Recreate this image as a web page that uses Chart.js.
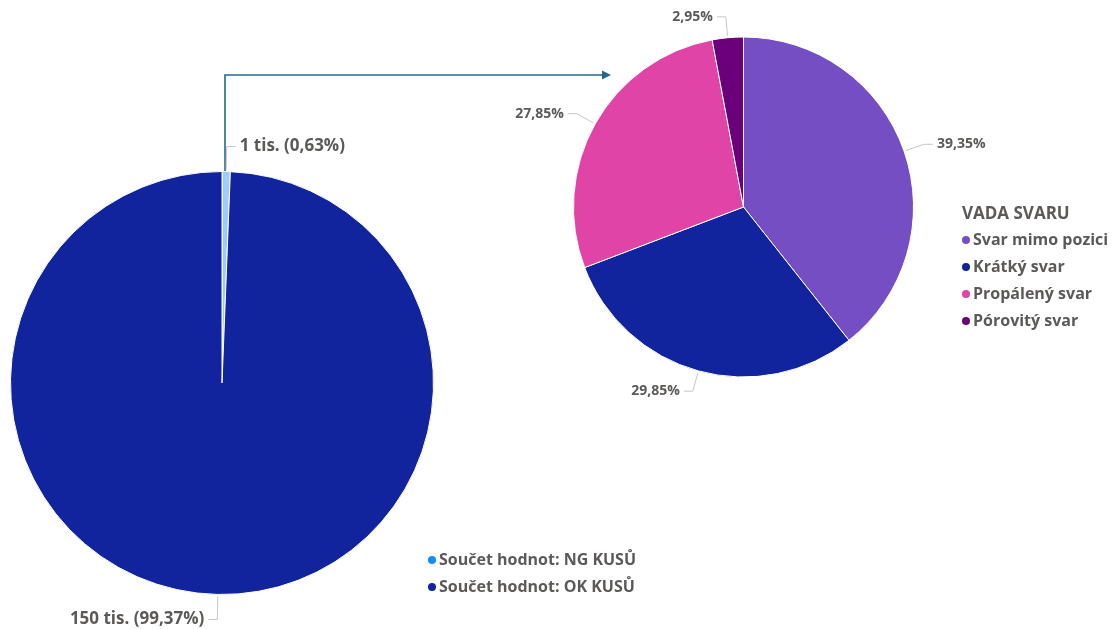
<!DOCTYPE html>
<html>
<head>
<meta charset="utf-8">
<script src="https://cdn.jsdelivr.net/npm/chart.js@4/dist/chart.umd.min.js"></script>
<style>
  html, body { margin: 0; padding: 0; background: #fff; }
  body { width: 1120px; height: 629px; position: relative; overflow: hidden;
         font-family: "Open Sans", "Noto Sans", sans-serif; }
  .box { position: absolute; }
  #totalBox { left: 0; top: 120px; width: 460px; height: 509px; }
  #defectBox { left: 500px; top: 0; width: 520px; height: 420px; }
  .legend { position: absolute; color: #5C5A58; font-weight: 700; font-size: 16px; line-height: 27px; }
  .legend .title { font-size: 17px; }
  .legend .item { display: flex; align-items: center; white-space: nowrap; }
  .legend .dot { width: 8px; height: 8px; border-radius: 50%; margin-right: 3px; }
  #arrow { position: absolute; left: 0; top: 0; }
</style>
</head>
<body>
<svg id="arrow" width="1120" height="629">
  <polyline points="225,182 225,75 604,75" fill="none" stroke="#24698A" stroke-width="1.6"/>
  <polygon points="611,75 602,70.5 602,79.5" fill="#24698A"/>
</svg>
<div class="box" id="totalBox"><canvas id="totalChart"></canvas></div>
<div class="box" id="defectBox"><canvas id="defectChart"></canvas></div>
<div class="legend" id="defectLegend" style="left:962px; top:199px;"></div>
<div class="legend" id="totalLegend" style="left:428px; top:546px;"></div>

<script>
// pocty kusu
const totalLabels = ['Součet hodnot: NG KUSŮ', 'Součet hodnot: OK KUSŮ'];
const totalValues = [950, 149850];
const totalColors = ['#9FCDFB', '#12239E'];
const totalLegendColors = ['#118DFF', '#12239E'];

// vady svaru (podil v %)
const defectTitle = 'VADA SVARU';
const defectLabels = ['Svar mimo pozici', 'Krátký svar', 'Propálený svar', 'Pórovitý svar'];
const defectValues = [39.35, 29.85, 27.85, 2.95];
const defectColors = ['#744EC2', '#12239E', '#E044A7', '#6B007B'];

function pctText(v, total) {
    return (v / total * 100).toFixed(2).replace('.', ',') + '%';
}

// popisky mimo vysec s vodici carou
const outsideLabels = {
    id: 'outsideLabels',
    afterDatasetsDraw(chart, args, opts) {
        const ctx = chart.ctx;
        const ds = chart.data.datasets[0];
        const total = ds.data.reduce((a, b) => a + b, 0);
        chart.getDatasetMeta(0).data.forEach((arc, i) => {
            const mid = (arc.startAngle + arc.endAngle) / 2;
            const r = arc.outerRadius;
            const dx = Math.cos(mid), dy = Math.sin(mid);
            const x0 = arc.x + dx * (r + 2), y0 = arc.y + dy * (r + 2);
            const x1 = arc.x + dx * (r + opts.len), y1 = arc.y + dy * (r + opts.len);
            const side = dx >= 0 ? 1 : -1;
            const x2 = x1 + side * 9;
            ctx.save();
            ctx.strokeStyle = '#C8C6C4';
            ctx.lineWidth = 1;
            ctx.beginPath();
            ctx.moveTo(x0, y0);
            ctx.lineTo(x1, y1);
            ctx.lineTo(x2, y1);
            ctx.stroke();
            ctx.fillStyle = '#5C5A58';
            ctx.font = opts.font;
            ctx.textBaseline = 'middle';
            ctx.textAlign = side > 0 ? 'left' : 'right';
            ctx.fillText(opts.format(ds.data[i], total), x2 + side * 4, y1);
            ctx.restore();
        });
    }
};

function pieOptions(padding, labelOpts) {
    return {
        responsive: true,
        maintainAspectRatio: false,
        animation: false,
        layout: { padding: padding },
        plugins: {
            legend: { display: false },
            tooltip: { enabled: false },
            outsideLabels: labelOpts
        }
    };
}

new Chart(document.getElementById('totalChart'), {
    type: 'pie',
    data: {
        labels: totalLabels,
        datasets: [{ data: totalValues, backgroundColor: totalColors, borderColor: '#fff', borderWidth: 1 }]
    },
    options: pieOptions({ left: 10, right: 26, top: 50, bottom: 33 }, {
        len: 25,
        font: 'bold 17px "Open Sans"',
        format: (v, t) => Math.round(v / 1000) + ' tis. (' + pctText(v, t) + ')'
    }),
    plugins: [outsideLabels]
});

new Chart(document.getElementById('defectChart'), {
    type: 'pie',
    data: {
        labels: defectLabels,
        datasets: [{ data: defectValues, backgroundColor: defectColors, borderColor: '#fff', borderWidth: 1 }]
    },
    options: pieOptions({ left: 73, right: 106, top: 36, bottom: 42 }, {
        len: 21,
        font: 'bold 14px "Open Sans"',
        format: (v, t) => pctText(v, t)
    }),
    plugins: [outsideLabels]
});

// legendy
function buildLegend(el, title, labels, colors) {
    let html = title ? '<div class="title">' + title + '</div>' : '';
    labels.forEach((l, i) => {
        html += '<div class="item"><span class="dot" style="background:' + colors[i] + '"></span>' + l + '</div>';
    });
    el.innerHTML = html;
}
buildLegend(document.getElementById('defectLegend'), defectTitle, defectLabels, defectColors);
buildLegend(document.getElementById('totalLegend'), '', totalLabels, totalLegendColors);
</script>
</body>
</html>
